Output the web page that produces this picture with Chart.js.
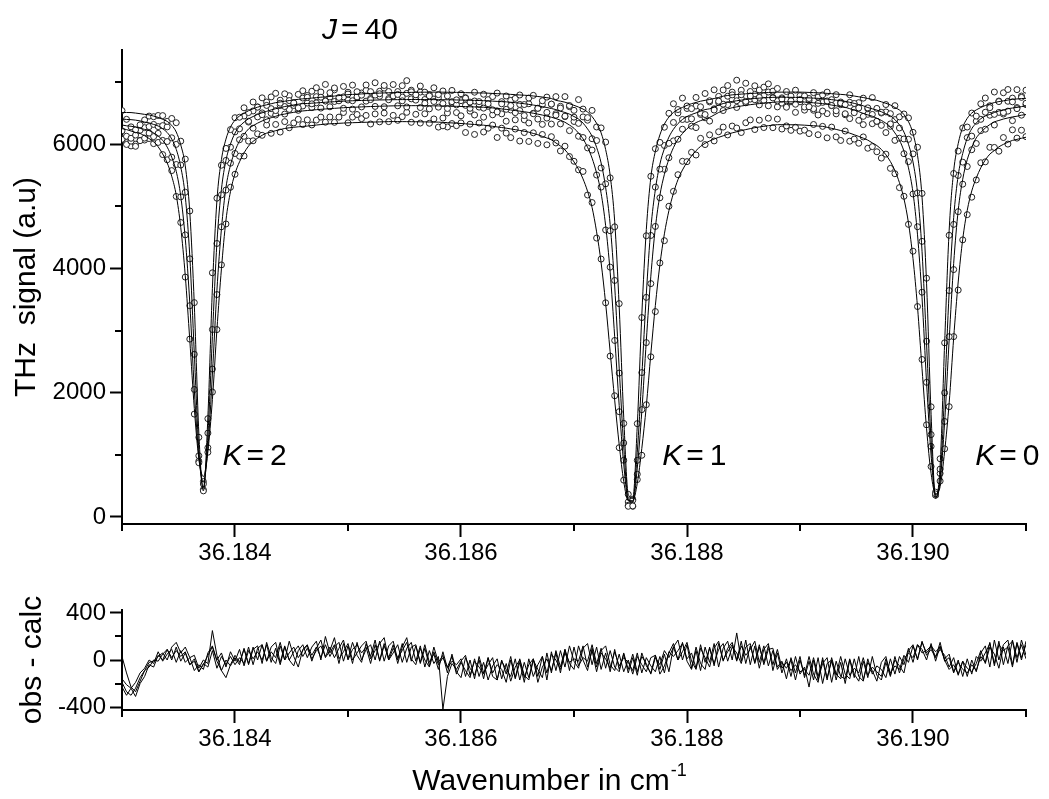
<!DOCTYPE html>
<html>
<head>
<meta charset="utf-8">
<title>J = 40 spectrum</title>
<script src="https://cdn.jsdelivr.net/npm/chart.js@4.4.1/dist/chart.umd.min.js"></script>
<style>
  html, body { margin: 0; padding: 0; background: #fff; }
  #wrap { position: relative; width: 1049px; height: 799px; }
  canvas { position: absolute; left: 0; }
  #spectrum { top: 0; }
  #residual { top: 580px; }
</style>
</head>
<body>
<div id="wrap">
  <canvas id="spectrum" width="1049" height="580"></canvas>
  <canvas id="residual" width="1049" height="219"></canvas>
</div>
<script>
// Wavenumber grid of the scan (cm-1)
const waveNumber = [
  36.18300, 36.18304, 36.18308, 36.18312, 36.18316, 36.18320, 36.18324, 36.18328, 36.18332, 36.18336,
  36.18340, 36.18344, 36.18348, 36.18352, 36.18356, 36.18360, 36.18364, 36.18368, 36.18372, 36.18376,
  36.18380, 36.18384, 36.18388, 36.18392, 36.18396, 36.18400, 36.18404, 36.18408, 36.18412, 36.18416,
  36.18420, 36.18424, 36.18428, 36.18432, 36.18436, 36.18440, 36.18444, 36.18448, 36.18452, 36.18456,
  36.18460, 36.18464, 36.18468, 36.18472, 36.18476, 36.18480, 36.18484, 36.18488, 36.18492, 36.18496,
  36.18500, 36.18504, 36.18508, 36.18512, 36.18516, 36.18520, 36.18524, 36.18528, 36.18532, 36.18536,
  36.18540, 36.18544, 36.18548, 36.18552, 36.18556, 36.18560, 36.18564, 36.18568, 36.18572, 36.18576,
  36.18580, 36.18584, 36.18588, 36.18592, 36.18596, 36.18600, 36.18604, 36.18608, 36.18612, 36.18616,
  36.18620, 36.18624, 36.18628, 36.18632, 36.18636, 36.18640, 36.18644, 36.18648, 36.18652, 36.18656,
  36.18660, 36.18664, 36.18668, 36.18672, 36.18676, 36.18680, 36.18684, 36.18688, 36.18692, 36.18696,
  36.18700, 36.18704, 36.18708, 36.18712, 36.18716, 36.18720, 36.18724, 36.18728, 36.18732, 36.18736,
  36.18740, 36.18744, 36.18748, 36.18752, 36.18756, 36.18760, 36.18764, 36.18768, 36.18772, 36.18776,
  36.18780, 36.18784, 36.18788, 36.18792, 36.18796, 36.18800, 36.18804, 36.18808, 36.18812, 36.18816,
  36.18820, 36.18824, 36.18828, 36.18832, 36.18836, 36.18840, 36.18844, 36.18848, 36.18852, 36.18856,
  36.18860, 36.18864, 36.18868, 36.18872, 36.18876, 36.18880, 36.18884, 36.18888, 36.18892, 36.18896,
  36.18900, 36.18904, 36.18908, 36.18912, 36.18916, 36.18920, 36.18924, 36.18928, 36.18932, 36.18936,
  36.18940, 36.18944, 36.18948, 36.18952, 36.18956, 36.18960, 36.18964, 36.18968, 36.18972, 36.18976,
  36.18980, 36.18984, 36.18988, 36.18992, 36.18996, 36.19000, 36.19004, 36.19008, 36.19012, 36.19016,
  36.19020, 36.19024, 36.19028, 36.19032, 36.19036, 36.19040, 36.19044, 36.19048, 36.19052, 36.19056,
  36.19060, 36.19064, 36.19068, 36.19072, 36.19076, 36.19080, 36.19084, 36.19088, 36.19092, 36.19096,
  36.19100
];

// Fitted (calc) THz signal, one curve per scan
const fitA = [
  6511, 6510, 6509, 6501, 6491, 6480, 6472, 6452, 6432, 6400,
  6367, 6304, 6196, 5989, 5650, 4905, 3410, 1352, 420, 1612,
  3680, 5091, 5752, 6082, 6275, 6386, 6454, 6496, 6539, 6569,
  6596, 6616, 6634, 6651, 6669, 6680, 6691, 6702, 6714, 6722,
  6730, 6735, 6742, 6749, 6756, 6762, 6768, 6775, 6782, 6790,
  6797, 6801, 6805, 6809, 6813, 6816, 6819, 6822, 6825, 6828,
  6830, 6831, 6832, 6833, 6834, 6835, 6836, 6837, 6837, 6838,
  6838, 6837, 6836, 6835, 6834, 6832, 6830, 6828, 6826, 6825,
  6824, 6821, 6817, 6813, 6810, 6806, 6802, 6797, 6792, 6788,
  6783, 6776, 6768, 6759, 6748, 6735, 6706, 6692, 6676, 6652,
  6625, 6598, 6565, 6518, 6444, 6337, 6182, 5914, 5498, 4760,
  3384, 1606, 365, 298, 1472, 3250, 4626, 5464, 5887, 6149,
  6323, 6437, 6511, 6558, 6592, 6625, 6652, 6672, 6692, 6706,
  6719, 6735, 6752, 6773, 6784, 6794, 6800, 6806, 6811, 6816,
  6820, 6824, 6828, 6831, 6834, 6837, 6838, 6838, 6839, 6839,
  6838, 6836, 6833, 6830, 6827, 6823, 6818, 6813, 6807, 6802,
  6796, 6786, 6775, 6763, 6751, 6735, 6720, 6706, 6682, 6658,
  6631, 6590, 6550, 6476, 6363, 6171, 5821, 5148, 3763, 1653,
  301, 827, 2803, 4614, 5569, 6009, 6272, 6416, 6501, 6552,
  6591, 6623, 6648, 6670, 6686, 6698, 6710, 6722, 6728, 6734,
  6739
];
const fitB = [
  6405, 6398, 6395, 6387, 6375, 6356, 6343, 6318, 6293, 6249,
  6188, 6083, 5917, 5635, 5157, 4195, 2628, 1085, 479, 1310,
  2907, 4412, 5275, 5739, 6002, 6178, 6288, 6354, 6409, 6445,
  6481, 6505, 6529, 6552, 6571, 6588, 6606, 6620, 6632, 6644,
  6653, 6654, 6660, 6665, 6670, 6675, 6680, 6684, 6688, 6692,
  6696, 6699, 6702, 6704, 6706, 6708, 6710, 6712, 6713, 6715,
  6716, 6717, 6718, 6718, 6719, 6719, 6719, 6718, 6718, 6717,
  6717, 6716, 6715, 6714, 6712, 6711, 6709, 6707, 6705, 6703,
  6700, 6697, 6693, 6689, 6685, 6681, 6675, 6668, 6660, 6651,
  6641, 6630, 6618, 6605, 6590, 6574, 6557, 6530, 6511, 6484,
  6445, 6405, 6339, 6246, 6128, 5949, 5698, 5302, 4707, 3717,
  2396, 1141, 282, 249, 1042, 2264, 3585, 4641, 5269, 5678,
  5929, 6114, 6240, 6332, 6398, 6445, 6478, 6504, 6530, 6557,
  6570, 6600, 6630, 6654, 6672, 6688, 6699, 6709, 6719, 6728,
  6736, 6741, 6746, 6750, 6754, 6757, 6756, 6755, 6754, 6753,
  6751, 6748, 6745, 6741, 6738, 6734, 6726, 6717, 6708, 6699,
  6690, 6674, 6657, 6638, 6618, 6590, 6569, 6549, 6522, 6489,
  6456, 6396, 6311, 6194, 5999, 5714, 5215, 4276, 2788, 1236,
  330, 620, 2009, 3624, 4819, 5497, 5851, 6096, 6250, 6340,
  6410, 6454, 6479, 6510, 6535, 6548, 6571, 6582, 6592, 6605,
  6618
];
const fitC = [
  6309, 6296, 6289, 6276, 6257, 6238, 6219, 6182, 6134, 6061,
  5953, 5791, 5563, 5162, 4480, 3440, 2042, 973, 560, 1102,
  2301, 3650, 4640, 5301, 5664, 5890, 6051, 6157, 6246, 6298,
  6339, 6374, 6403, 6426, 6449, 6472, 6485, 6500, 6513, 6525,
  6535, 6542, 6549, 6555, 6561, 6567, 6572, 6577, 6582, 6587,
  6591, 6594, 6597, 6600, 6603, 6606, 6608, 6611, 6613, 6615,
  6617, 6618, 6619, 6619, 6620, 6620, 6620, 6619, 6618, 6617,
  6616, 6615, 6613, 6611, 6609, 6607, 6605, 6602, 6600, 6597,
  6595, 6589, 6583, 6576, 6568, 6560, 6551, 6542, 6532, 6522,
  6511, 6498, 6484, 6469, 6452, 6434, 6412, 6386, 6353, 6308,
  6256, 6178, 6087, 5950, 5775, 5534, 5209, 4689, 3941, 2901,
  1795, 853, 268, 235, 788, 1698, 2836, 3876, 4656, 5177,
  5515, 5762, 5944, 6080, 6171, 6249, 6301, 6347, 6379, 6405,
  6431, 6470, 6510, 6542, 6567, 6587, 6601, 6614, 6626, 6636,
  6645, 6653, 6661, 6668, 6674, 6680, 6681, 6682, 6682, 6682,
  6682, 6678, 6672, 6666, 6660, 6653, 6642, 6630, 6618, 6606,
  6594, 6572, 6549, 6523, 6495, 6471, 6450, 6417, 6383, 6337,
  6278, 6181, 6066, 5887, 5619, 5219, 4541, 3528, 2167, 996,
  362, 581, 1527, 2852, 4082, 4934, 5437, 5751, 5951, 6101,
  6188, 6261, 6316, 6359, 6382, 6405, 6422, 6439, 6450, 6467,
  6477
];
const fitD = [
  6250, 6235, 6212, 6189, 6172, 6137, 6091, 6039, 5958, 5843,
  5699, 5485, 5179, 4660, 3881, 2843, 1746, 938, 650, 1054,
  1891, 3016, 3997, 4776, 5237, 5526, 5716, 5860, 5970, 6045,
  6097, 6143, 6178, 6195, 6218, 6235, 6253, 6264, 6272, 6280,
  6286, 6292, 6300, 6308, 6316, 6324, 6328, 6332, 6336, 6340,
  6344, 6346, 6348, 6351, 6353, 6355, 6357, 6359, 6361, 6363,
  6364, 6364, 6363, 6363, 6362, 6361, 6360, 6359, 6357, 6356,
  6355, 6351, 6347, 6342, 6338, 6333, 6328, 6322, 6317, 6311,
  6306, 6297, 6288, 6278, 6268, 6258, 6246, 6234, 6221, 6208,
  6194, 6173, 6152, 6126, 6100, 6071, 6020, 5971, 5908, 5821,
  5715, 5597, 5441, 5242, 4981, 4589, 4091, 3437, 2659, 1881,
  1165, 573, 262, 262, 542, 1103, 1787, 2628, 3406, 4059,
  4557, 4931, 5211, 5429, 5585, 5709, 5809, 5896, 5964, 6014,
  6051, 6083, 6110, 6135, 6159, 6182, 6200, 6218, 6235, 6251,
  6266, 6277, 6288, 6298, 6306, 6314, 6314, 6314, 6313, 6312,
  6310, 6306, 6301, 6297, 6292, 6287, 6272, 6255, 6238, 6220,
  6202, 6178, 6152, 6125, 6097, 6065, 6021, 5978, 5916, 5830,
  5721, 5575, 5381, 5122, 4730, 4158, 3377, 2385, 1423, 702,
  370, 488, 1057, 1835, 2883, 3782, 4470, 4936, 5247, 5455,
  5621, 5746, 5840, 5898, 5957, 5997, 6032, 6061, 6078, 6095,
  6112
];

// obs - calc residuals, one trace per scan
const resA = [
  30, -110, -230, -270, -180, -90, -20, -10, 30, 60,
  0, 110, 150, 60, 110, 20, 40, -70, 0, -30,
  250, 40, -90, -150, -40, 40, -20, 90, -30, 110,
  0, 130, -10, 110, 150, -20, 120, 0, -50, 80,
  130, 20, 110, 160, 0, 200, 60, 130, -30, 140,
  10, 150, 40, -20, 140, 30, 170, -10, 120, 20,
  130, -30, 110, 190, 10, -40, 100, 0, -60, 70,
  -40, 20, -60, 30, -120, -20, -90, -150, 10, -140,
  -20, -170, -50, 10, -160, -30, -180, -60, 0, -150,
  -40, 10, -190, -60, 10, -90, 60, -110, 90, -30,
  -80, 120, 0, -90, 100, -60, 80, 120, -40, -90,
  50, -100, 0, -120, 30, -40, -100, 20, 40, -120,
  -50, 60, 140, 0, 150, -10, -80, 80, -90, 110,
  -20, 140, -60, 100, 160, 0, 230, -10, 170, -40,
  120, -70, 90, 140, -90, 60, -110, 10, -140, 30,
  -120, -60, -230, 0, -170, -30, 20, -190, -10, -140,
  -160, 10, -120, -180, -10, -150, 30, -130, -170, -20,
  -140, 30, -110, 10, 60, 20, 130, 60, 80, 120,
  70, 110, 0, -80, -40, -120, -10, -140, 0, -100,
  60, 120, -60, 170, 0, 130, 170, -40, 150, 20,
  130
];
const resB = [
  -190, -270, -300, -240, -150, -90, -60, 0, -10, 50,
  90, 20, 80, 30, 70, -40, -10, -100, -40, 40,
  110, -10, -90, 0, -50, 20, -40, 100, -40, 90,
  120, -30, 150, 20, -30, 120, 0, 160, 30, -60,
  90, 130, -10, 100, 170, 20, 80, 190, 10, 70,
  140, 0, 60, 120, 160, 10, 80, 140, 190, 0,
  60, 130, -20, 100, 150, -10, 120, -60, 80, -30,
  30, -420, -140, -30, -80, -10, 40, -130, -10, -60,
  -120, 20, -140, -170, 0, -120, 30, -160, -20, -190,
  10, -140, -40, 30, -170, 70, -90, 80, -60, 120,
  -10, -70, 100, 140, -40, 110, -80, 60, -100, 90,
  -80, 50, -110, 20, -130, 60, -50, -110, 40, -80,
  50, -100, 110, 170, 0, 130, -70, 110, -30, -80,
  110, -50, 140, -10, 100, 150, 0, 160, -30, 120,
  -20, 130, -40, 90, 100, -60, -10, -160, 20, -110,
  30, -150, -10, -170, 20, -200, -30, 0, -170, -20,
  -200, 0, -150, 30, -170, -20, -90, -180, -20, 30,
  -130, 0, -50, -110, 80, 130, 0, 160, 40, 90,
  20, 150, -10, 20, -110, 0, -140, 10, -120, 30,
  -10, 60, 140, -30, 160, -40, 120, 160, -20, 170,
  40
];
const resC = [
  -230, -300, -240, -310, -200, -140, -40, -60, 40, 0,
  90, 0, 110, -10, 60, -40, 10, -100, -30, -60,
  80, -70, 30, -40, 30, -40, 20, -30, 110, -40,
  100, 130, -10, 70, 20, 150, 0, 60, 110, 20,
  80, 120, 40, 110, 20, 130, 30, 110, 150, -10,
  120, -30, 150, 0, 90, 130, 0, 160, -10, 120,
  160, 0, 140, -20, 110, 130, -30, 100, -50, 110,
  -20, 40, -110, 50, -100, -150, 20, -70, -130, 0,
  -160, 20, -110, -40, -80, -190, 0, -150, 10, -130,
  -170, 0, -80, -150, 60, -110, 80, -60, 90, -90,
  110, -50, 20, -10, 130, -30, 100, -70, 80, -60,
  -100, 60, -80, 50, -100, 30, -30, -120, 20, -40,
  80, 20, 110, 0, 70, 150, -10, -80, 100, 20,
  -60, 100, 160, 0, 70, 130, -10, 120, 40, 90,
  160, -20, 120, -50, 80, -80, -20, -70, 0, -170,
  0, -130, 30, -120, -190, 20, -150, -10, -130, 30,
  -120, -160, 10, -140, -180, 10, -120, -50, -80, -150,
  10, -120, 30, -40, 100, -20, 130, 90, 0, 140,
  -10, 120, 10, 50, -100, -20, -80, -110, -40, -90,
  30, -20, 150, -50, 130, 80, 110, -60, 140, 0,
  160
];
const resD = [
  -160, -210, -240, -190, -110, -70, 0, -30, 70, -10,
  50, 90, -20, 80, -20, 20, -90, -40, -80, 60,
  120, 0, 60, -60, 70, -10, 90, -50, 80, 10,
  70, 0, 130, -20, 100, -40, 110, 0, 70, 120,
  30, 100, 10, 80, 120, 30, 110, 20, 100, 170,
  0, 90, 130, 60, 110, -30, 130, 0, 140, 0,
  100, 20, 80, 150, -10, 120, -20, 130, -20, 50,
  -80, 70, -70, -10, -40, 10, -140, 0, -160, 30,
  -110, -40, 20, -170, -10, -80, -140, 10, -170, -20,
  -150, 10, -140, 30, -110, 50, 0, -80, 60, -20,
  10, -10, 120, -60, 80, -100, 60, 10, -70, 70,
  -50, 20, -20, -90, 60, -110, 20, -50, -100, 30,
  -110, 70, 30, 80, 140, 10, 60, -70, 130, -20,
  100, -30, 90, 140, -10, 110, 60, -30, 110, 140,
  -30, 110, -20, 120, -40, 90, -70, -20, -90, -40,
  -100, -80, -130, 20, -140, 0, -170, 20, -120, -160,
  10, -130, -70, -110, 20, -130, -60, -100, -140, 10,
  -110, -50, -80, 40, -20, 120, 10, 150, 60, 110,
  30, 90, 40, -60, 20, -130, -10, -70, -100, -30,
  80, -30, 110, 50, -70, 110, -30, 170, 20, 130,
  10
];

// Axis ticks
const xMajorTicks = [36.184, 36.186, 36.188, 36.190];
const xMinorTicks = [36.183, 36.185, 36.187, 36.189, 36.191];
const signalMajorTicks = [0, 2000, 4000, 6000];
const signalMinorTicks = [1000, 3000, 5000, 7000];
const residualMajorTicks = [-400, 0, 400];
const residualMinorTicks = [-200, 200];

const FONT = '"Liberation Sans", Arial, sans-serif';
Chart.defaults.font.family = FONT;
Chart.defaults.color = '#000';

const fits = [fitA, fitB, fitC, fitD];
const residuals = [resA, resB, resC, resD];

/**
 * Minor tick marks (Chart.js has no minor ticks)
 */
const minorTickPlugin = {
    id: 'minorTicks',
    afterDraw(chart, args, opts) {
        const { ctx, chartArea, scales } = chart;
        ctx.save();
        ctx.strokeStyle = '#000';
        ctx.lineWidth = 2;
        ctx.beginPath();
        (opts.x || []).forEach(v => {
            const px = Math.round(scales.x.getPixelForValue(v));
            ctx.moveTo(px, chartArea.bottom);
            ctx.lineTo(px, chartArea.bottom + opts.length);
        });
        (opts.y || []).forEach(v => {
            const py = Math.round(scales.y.getPixelForValue(v));
            ctx.moveTo(chartArea.left, py);
            ctx.lineTo(chartArea.left - opts.length, py);
        });
        ctx.stroke();
        ctx.restore();
    }
};

/**
 * "J = 40", "K = 2" style labels with italic symbol
 */
const quantumLabelPlugin = {
    id: 'quantumLabels',
    afterDraw(chart, args, opts) {
        const { ctx, scales: { x, y } } = chart;
        ctx.save();
        ctx.fillStyle = '#000';
        ctx.textBaseline = 'alphabetic';
        (opts.items || []).forEach(item => {
            let px = x.getPixelForValue(item.x);
            const py = y.getPixelForValue(item.y);
            ctx.font = 'italic 30px ' + FONT;
            ctx.fillText(item.symbol, px, py);
            px += ctx.measureText(item.symbol).width + 4;
            ctx.font = '30px ' + FONT;
            ctx.fillText('=', px, py);
            px += ctx.measureText('=').width + 6;
            ctx.fillText(item.value, px, py);
        });
        ctx.restore();
    }
};

/**
 * X axis title with superscript
 */
const wavenumberTitlePlugin = {
    id: 'wavenumberTitle',
    afterDraw(chart, args, opts) {
        if (!opts.display) return;
        const { ctx, chartArea } = chart;
        const main = 'Wavenumber in cm';
        const sup = '-1';
        ctx.save();
        ctx.fillStyle = '#000';
        ctx.font = '30px ' + FONT;
        const wMain = ctx.measureText(main).width;
        ctx.font = '18px ' + FONT;
        const wSup = ctx.measureText(sup).width;
        const cx = (chartArea.left + chartArea.right) / 2 + opts.shift;
        const x0 = cx - (wMain + wSup) / 2;
        ctx.font = '30px ' + FONT;
        ctx.fillText(main, x0, opts.baseline);
        ctx.font = '18px ' + FONT;
        ctx.fillText(sup, x0 + wMain + 1, opts.baseline - 14);
        ctx.restore();
    }
};

function axisX(height) {
    return {
        type: 'linear',
        min: 36.183,
        max: 36.191,
        afterFit: scale => { scale.height = height; },
        afterBuildTicks: scale => { scale.ticks = xMajorTicks.map(v => ({ value: v })); },
        ticks: {
            callback: v => Number(v).toFixed(3),
            font: { size: 24 },
            padding: 2,
            maxRotation: 0,
            autoSkip: false
        },
        grid: { drawOnChartArea: false, drawTicks: true, tickLength: 13, tickWidth: 2, color: '#000', tickColor: '#000' },
        border: { display: true, color: '#000', width: 2 }
    };
}

function axisY(min, max, majors, title, titlePad) {
    return {
        type: 'linear',
        min: min,
        max: max,
        afterFit: scale => { scale.width = 122; },
        afterBuildTicks: scale => { scale.ticks = majors.map(v => ({ value: v })); },
        ticks: { callback: v => String(v), font: { size: 24 }, padding: 4, autoSkip: false },
        grid: { drawOnChartArea: false, drawTicks: true, tickLength: 12, tickWidth: 2, color: '#000', tickColor: '#000' },
        border: { display: true, color: '#000', width: 2 },
        title: { display: true, text: title, font: { size: 30 }, padding: { top: titlePad, bottom: 0 } }
    };
}

// Spectrum: observed points + fitted curves
const obsSets = fits.map((fit, k) => ({
    label: 'obs ' + (k + 1),
    data: waveNumber.map((x, i) => ({ x: x, y: fit[i] + residuals[k][i] })),
    showLine: false,
    pointRadius: 3,
    pointBorderWidth: 1,
    pointBorderColor: '#222',
    pointBackgroundColor: '#fff',
    order: 2
}));
const fitSets = fits.map((fit, k) => ({
    label: 'calc ' + (k + 1),
    data: waveNumber.map((x, i) => ({ x: x, y: fit[i] })),
    borderColor: '#000',
    borderWidth: 1,
    pointRadius: 0,
    cubicInterpolationMode: 'monotone',
    order: 1
}));

new Chart(document.getElementById('spectrum'), {
    type: 'line',
    data: { datasets: [...obsSets, ...fitSets] },
    options: {
        responsive: false,
        animation: false,
        devicePixelRatio: 1,
        layout: { padding: { left: 0, right: 23, top: 50, bottom: 0 } },
        scales: {
            x: axisX(56),
            y: axisY(-113, 7516, signalMajorTicks, 'THz  signal (a.u)', 9)
        },
        plugins: {
            legend: { display: false },
            tooltip: { enabled: false },
            minorTicks: { x: xMinorTicks, y: signalMinorTicks, length: 7 },
            quantumLabels: {
                items: [
                    { symbol: 'J', value: '40', x: 36.18477, y: 7690 },
                    { symbol: 'K', value: '2', x: 36.18389, y: 840 },
                    { symbol: 'K', value: '1', x: 36.18778, y: 840 },
                    { symbol: 'K', value: '0', x: 36.19055, y: 840 }
                ]
            }
        }
    },
    plugins: [minorTickPlugin, quantumLabelPlugin]
});

// Residuals panel
new Chart(document.getElementById('residual'), {
    type: 'line',
    data: {
        datasets: residuals.map((res, k) => ({
            label: 'obs - calc ' + (k + 1),
            data: waveNumber.map((x, i) => ({ x: x, y: res[i] })),
            borderColor: '#000',
            borderWidth: 1,
            pointRadius: 0,
            tension: 0
        }))
    },
    options: {
        responsive: false,
        animation: false,
        devicePixelRatio: 1,
        layout: { padding: { left: 0, right: 23, top: 30, bottom: 0 } },
        scales: {
            x: axisX(89),
            y: axisY(-425, 425, residualMajorTicks, 'obs - calc', 15)
        },
        plugins: {
            legend: { display: false },
            tooltip: { enabled: false },
            minorTicks: { x: xMinorTicks, y: residualMinorTicks, length: 7 },
            wavenumberTitle: { display: true, baseline: 210, shift: -25 }
        }
    },
    plugins: [minorTickPlugin, wavenumberTitlePlugin]
});
</script>
</body>
</html>
